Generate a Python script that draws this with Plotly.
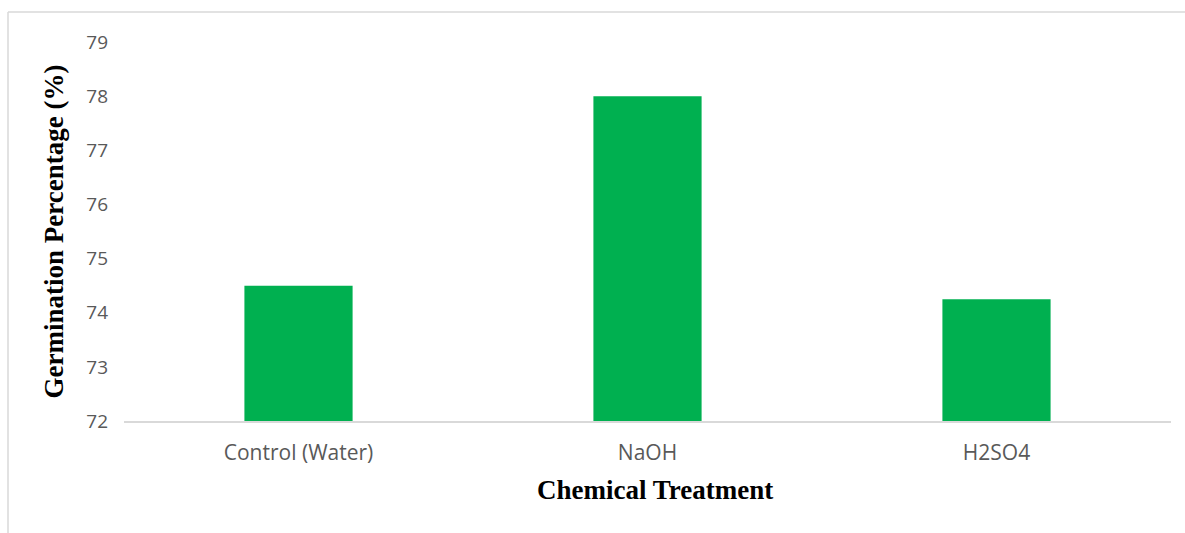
import plotly.graph_objects as go

treatments = ["Control (Water)", "NaOH", "H2SO4"]
germination_pct = [74.5, 78.0, 74.25]
y_ticks = [72, 73, 74, 75, 76, 77, 78, 79]

fig = go.Figure(
    go.Bar(
        x=treatments,
        y=germination_pct,
        marker=dict(color="#00B050", line=dict(width=0)),
        width=0.31,
    )
)

# plot area in pixels: x 124..1171, y 42..421
L, R, T, B = 124, 14, 42, 112
W, H = 1185 - L - R, 533 - T - B

def px_x(p):
    return (p - L) / W

def px_y(p):
    return (533 - B - p) / H

frame = dict(color="#d9d9d9", width=1.5)
fig.add_shape(type="line", xref="paper", yref="paper",
              x0=px_x(8), x1=px_x(8), y0=px_y(540), y1=px_y(12), line=frame)
fig.add_shape(type="line", xref="paper", yref="paper",
              x0=px_x(8), x1=px_x(1190), y0=px_y(12), y1=px_y(12), line=frame)

# x-axis title, set slightly right of the plot centre
fig.add_annotation(
    text="<b>Chemical Treatment</b>",
    xref="paper", yref="paper",
    x=px_x(655), y=px_y(490),
    xanchor="center", yanchor="middle",
    showarrow=False,
    font=dict(family="Liberation Serif", size=27, color="black"),
)

fig.update_layout(
    width=1185,
    height=533,
    margin=dict(l=L, r=R, t=T, b=B),
    paper_bgcolor="white",
    plot_bgcolor="white",
    showlegend=False,
    xaxis=dict(
        showgrid=False,
        showline=True,
        linecolor="#d9d9d9",
        linewidth=1.5,
        ticks="",
        ticklabelstandoff=12,
        tickfont=dict(family="Open Sans", size=21, color="#595959"),
    ),
    yaxis=dict(
        range=[72, 79],
        tickvals=y_ticks,
        showgrid=False,
        zeroline=False,
        showline=False,
        ticks="",
        ticklabelstandoff=15,
        tickfont=dict(family="Open Sans", size=19, color="#595959"),
        title=dict(
            text="<b>Germination Percentage (%)</b>",
            font=dict(family="Liberation Serif", size=27, color="black"),
            standoff=14,
        ),
    ),
)

fig.write_html("out.html")
